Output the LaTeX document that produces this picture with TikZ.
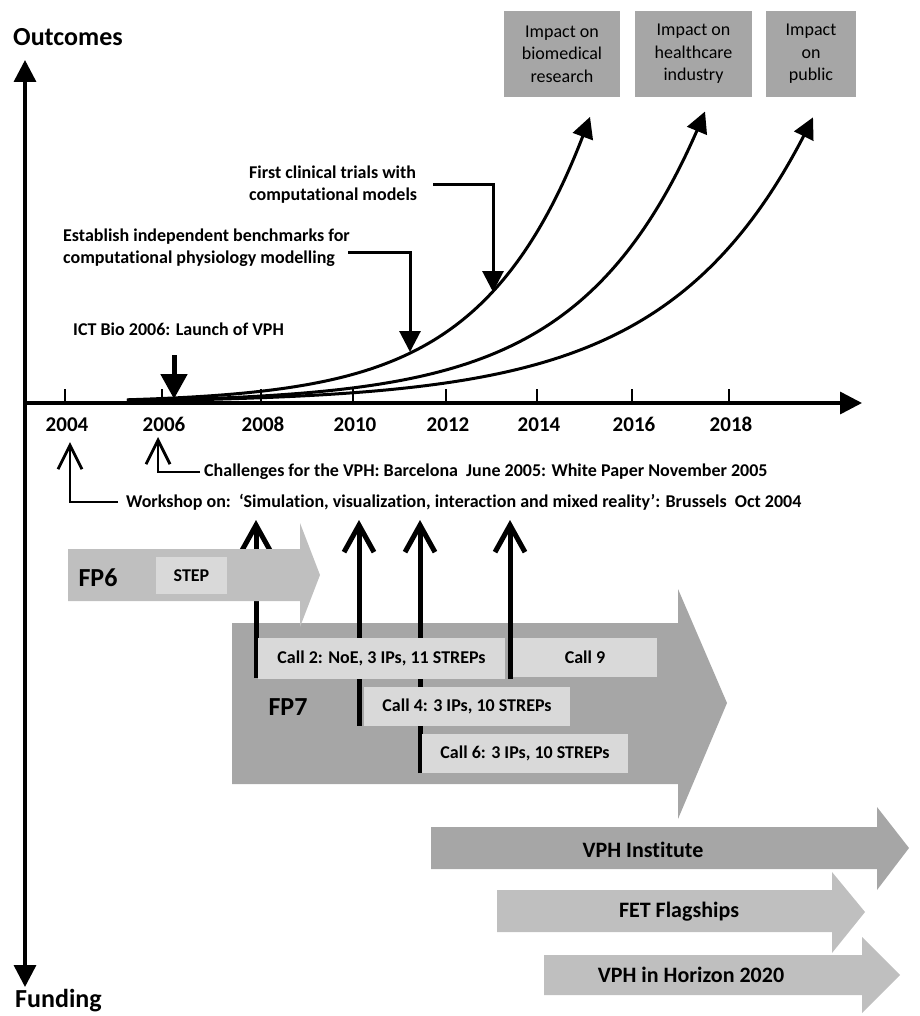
\documentclass[tikz,border=0pt]{standalone}
\usepackage{fontspec}
\setmainfont{Carlito}[Numbers={Lining,Monospaced}, Ligatures=NoCommon]
\usetikzlibrary{arrows.meta}
\definecolor{darkg}{HTML}{A6A6A6}
\definecolor{midg}{HTML}{BFBFBF}
\definecolor{lightg}{HTML}{D9D9D9}
\tikzset{
  lbl/.style={font=\fontsize{18}{22}\selectfont\bfseries, inner sep=0pt, align=left},
  yearlbl/.style={font=\fontsize{21}{25}\selectfont\bfseries, inner sep=0pt, anchor=base},
  biglbl/.style={font=\fontsize{26}{30}\selectfont\bfseries, inner sep=0pt},
  impact/.style={fill=darkg, inner sep=0pt, minimum height=86pt, align=center,
    font=\fontsize{18}{22.5}\selectfont},
  callbox/.style={fill=lightg, inner sep=0pt, font=\fontsize{18}{22}\selectfont\bfseries},
  axisline/.style={line width=3.5pt, {Triangle[length=22pt,width=22pt]}-{Triangle[length=22pt,width=22pt]}},
  tickline/.style={line width=1.5pt},
  growth/.style={line width=3pt, -{Triangle[length=21pt,width=21pt]}},
  conn/.style={line width=3pt, -{Triangle[length=21pt,width=21pt]}},
  launch/.style={line width=5pt, -{Triangle[length=25pt,width=26pt]}},
  openarr/.style={line width=2.8pt, -{Straight Barb[length=24pt,width=24pt]}},
  uparr/.style={line width=5pt, -{Straight Barb[length=27pt,width=30pt]}},
}
\begin{document}
\begin{tikzpicture}[x=1pt,y=-1pt]
\useasboundingbox (0,0) rectangle (919,1016);

% ---------- axes ----------
\node[biglbl, anchor=west] (outc) at (13,37) {Outcomes};
\node[biglbl, anchor=west] (fund) at (15,1001) {Funding};
\coordinate (vtop) at (25,60);
\coordinate (vbot) at (25,987);
\coordinate (horig) at (25,403);
\coordinate (hend) at (862,403);
\draw[axisline] (vbot) -- (vtop);
\draw[line width=3.5pt, -{Triangle[length=22pt,width=22pt]}] (horig) -- (hend);

\foreach \xx/\yr in {65/2004,162/2006,261/2008,353/2010,446/2012,537/2014,632/2016,729/2018}{
  \draw[tickline] (\xx,403) -- (\xx,389);
  \node[yearlbl] (y\yr) at (\xx+2,431) {\yr};
}

% ---------- impact boxes ----------
\node[impact, minimum width=116pt] (imp1) at (562,54) {Impact on\\biomedical\\research};
\node[impact, minimum width=117pt] (imp2) at (693.5,54) {Impact on\\healthcare\\industry};
\node[impact, minimum width=90pt] (imp3) at (811,54) {Impact\\on\\public};

% ---------- growth curves ----------
\draw[growth] plot[domain=127:590, samples=90, smooth] (\x,{403-3.2*exp(0.0097*(\x-127))});
\draw[growth] plot[domain=127:705, samples=90, smooth] (\x,{403-2.26*exp(0.0084*(\x-127))});
\draw[growth] plot[domain=127:813, samples=90, smooth] (\x,{403-2.0*exp(0.00723*(\x-127))});

% ---------- annotations above axis ----------
\node[lbl, anchor=west] (fct) at (249,185) {First clinical trials with\\computational models};
\coordinate (fctS) at (433,185);
\coordinate (fctT) at (493,292);
\draw[conn] (fctS) -| (fctT);

\node[lbl, anchor=west] (bench) at (63,248) {Establish independent benchmarks for\\computational physiology modelling};
\coordinate (benchS) at (348,252);
\coordinate (benchT) at (410,352);
\draw[conn] (benchS) -| (benchT);

\node[lbl, anchor=west] (ict) at (73,329) {ICT Bio 2006: Launch of VPH};
\coordinate (ictS) at (174,355);
\coordinate (ictT) at (174,399);
\draw[launch] (ictS) -- (ictT);

% ---------- annotations below axis ----------
\node[lbl, anchor=west] (chal) at (204,472) {Challenges for the VPH: Barcelona\ \ June 2005: White Paper November 2005};
\coordinate (t2006) at (158,437);
\draw[openarr] ([xshift=-4pt]chal.west) -| (t2006);

\node[lbl, anchor=west] (work) at (126,502) {Workshop on:\ \ ‘Simulation, visualization, interaction and mixed reality’: Brussels\ \ Oct 2004};
\coordinate (t2004) at (70,442);
\draw[openarr] ([xshift=-8pt]work.west) -| (t2004);

% ---------- FP7 arrow ----------
\fill[darkg] (232,623) -- (678,623) -- (678,589) -- (727,703) -- (678,819) -- (678,784) -- (232,784) -- cycle;

% ---------- up arrows from calls ----------
\coordinate (u1b) at (256,678); \coordinate (u1t) at (256,520);
\coordinate (u2b) at (359,726); \coordinate (u2t) at (359,520);
\coordinate (u3b) at (420,773); \coordinate (u3t) at (420,520);
\coordinate (u4b) at (510,679); \coordinate (u4t) at (510,520);
\draw[uparr] (u1b) -- (u1t);
\draw[uparr] (u2b) -- (u2t);
\draw[uparr] (u3b) -- (u3t);
\draw[uparr] (u4b) -- (u4t);

% ---------- FP6 arrow ----------
\fill[midg] (68,549) -- (300,549) -- (300,523) -- (320,575) -- (300,627) -- (300,601) -- (68,601) -- cycle;
\node[biglbl] (fp6) at (98,578) {FP6};
\node[callbox, minimum width=71pt, minimum height=37pt] (step) at (191.5,575.5) {STEP};

% ---------- call boxes ----------
\node[callbox, minimum width=247pt, minimum height=41pt] (call2) at (381.5,658.5) {Call 2: NoE, 3 IPs, 11 STREPs};
\node[callbox, minimum width=144pt, minimum height=39pt] (call9) at (585,657.5) {Call 9};
\node[callbox, minimum width=206pt, minimum height=39pt] (call4) at (467,706.5) {Call 4: 3 IPs, 10 STREPs};
\node[callbox, minimum width=206pt, minimum height=39pt] (call6) at (525,753.5) {Call 6: 3 IPs, 10 STREPs};
\node[biglbl] (fp7) at (288,707) {FP7};

% ---------- later programmes ----------
\fill[darkg] (431,827) -- (877,827) -- (877,807) -- (909,848) -- (877,890) -- (877,869) -- (431,869) -- cycle;
\node[font=\fontsize{22}{26}\selectfont\bfseries, inner sep=0pt] (vphi) at (643,850) {VPH Institute};
\fill[midg] (497,890) -- (832,890) -- (832,872) -- (865,912) -- (832,953) -- (832,932) -- (497,932) -- cycle;
\node[font=\fontsize{22}{26}\selectfont\bfseries, inner sep=0pt] (fet) at (679,912) {FET Flagships};
\fill[midg] (544,955) -- (862,955) -- (862,937) -- (900,975) -- (862,1013) -- (862,995) -- (544,995) -- cycle;
\node[font=\fontsize{22}{26}\selectfont\bfseries, inner sep=0pt] (h2020) at (691,975) {VPH in Horizon 2020};
\end{tikzpicture}
\end{document}
